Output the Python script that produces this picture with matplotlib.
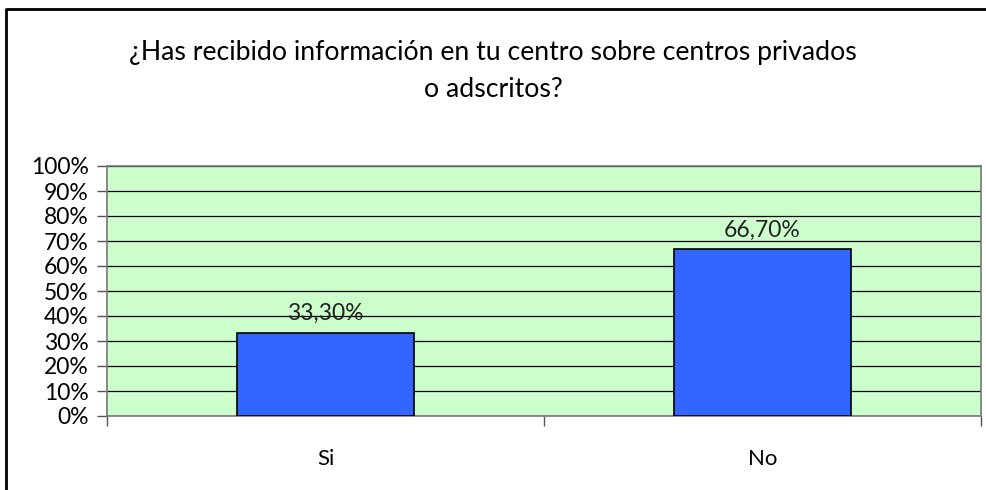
import matplotlib.pyplot as plt
from matplotlib.ticker import FixedLocator
from matplotlib.lines import Line2D

categories = ["Si", "No"]
values = [33.3, 66.7]
value_labels = ["33,30%", "66,70%"]
yticks = [0, 10, 20, 30, 40, 50, 60, 70, 80, 90, 100]
title = "¿Has recibido información en tu centro sobre centros privados\no adscritos?"

plt.rcParams['font.family'] = ['Lato', 'DejaVu Sans']

fig = plt.figure(figsize=(9.86, 4.9), dpi=100)
# outer chart border: only the left and top edges are inside the picture
fig.lines.append(Line2D([6 / 986, 6 / 986, 1.0], [0.0, 1 - 9 / 490, 1 - 9 / 490],
                        transform=fig.transFigure, color='black', linewidth=2))

ax = fig.add_axes([107 / 986, 1 - 416 / 490, (981 - 107) / 986, (416 - 166) / 490])
ax.set_facecolor('#CCFFCC')

x = [0, 1]
ax.bar(x, values, width=0.405, color='#3366FF', edgecolor='black', linewidth=1.2, zorder=3)
for xi, v, lab in zip(x, values, value_labels):
    ax.text(xi, v + 3.5, lab, ha='center', va='bottom', fontsize=16.5, color='#222222')

ax.set_xlim(-0.5, 1.5)
ax.set_ylim(0, 100)
ax.set_yticks(yticks)
ax.set_yticklabels([f"{t}%" for t in yticks], fontsize=16.5)
ax.yaxis.grid(True, color='black', linewidth=0.9)
ax.set_axisbelow(True)
ax.tick_params(axis='y', length=7, width=1, color='#555555', pad=6)

ax.set_xticks(x)
ax.set_xticklabels(categories, fontsize=16)
ax.xaxis.set_minor_locator(FixedLocator([-0.5, 0.5, 1.5]))
ax.tick_params(axis='x', which='major', length=0, pad=24)
ax.tick_params(axis='x', which='minor', length=7, width=1, color='#555555')

for s in ax.spines.values():
    s.set_color('#777777')
    s.set_linewidth(1.2)

fig.text(0.5, 1 - 71 / 490, title, ha='center', va='center', fontsize=19.2, linespacing=1.6)

fig.savefig('out.png', dpi=100)
